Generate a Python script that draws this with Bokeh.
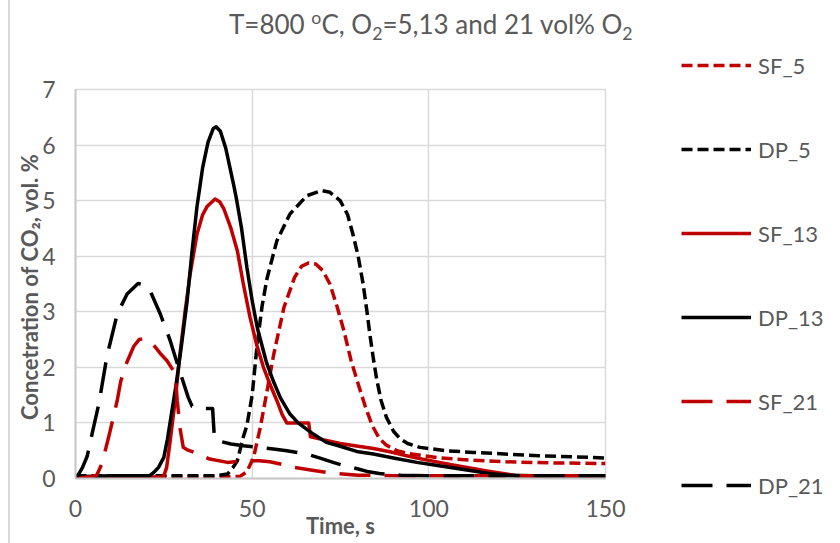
from bokeh.plotting import figure
from bokeh.models import Range1d, FixedTicker, Legend, LegendItem, Div
from bokeh.layouts import row, column
from bokeh.embed import file_html
from bokeh.resources import INLINE

# ---- data ----
title_parts = ["T=800 ", ("sup", "o"), "C, O", ("sub", "2"), "=5,13 and 21 vol% O", ("sub", "2")]
x_label = "Time, s"
y_label = "Concetration  of CO\u2082, vol. %"
x_ticks = [0, 50, 100, 150]
y_ticks = [0, 1, 2, 3, 4, 5, 6, 7]

sf5_t = [0, 10, 20, 30, 40, 46.6, 48.5, 50.4, 52.3, 54, 56, 59, 62, 64, 66, 68, 70, 72, 74, 76, 78,
         80, 82, 84, 86, 88, 91, 94, 103, 112, 122, 135, 150]
sf5_y = [0.03, 0.03, 0.03, 0.03, 0.03, 0.04, 0.12, 0.38, 0.92, 1.5, 2.2, 3.08, 3.62, 3.82, 3.88, 3.86,
         3.74, 3.5, 3.1, 2.65, 2.12, 1.7, 1.3, 0.95, 0.72, 0.6, 0.5, 0.45, 0.37, 0.33, 0.3, 0.28, 0.27]

dp5_t = [0, 10, 20, 30, 40, 43, 44.6, 45.8, 47.5, 48.5, 50, 51.4, 52.8, 54.2, 57, 60.7, 65.5, 69.7,
         72, 74.9, 77, 78.5, 80, 81.4, 82.5, 83.3, 84.2, 85.2, 86.5, 88, 90, 91.8, 94, 97.5, 105,
         112.5, 131, 150]
dp5_y = [0.05, 0.05, 0.05, 0.05, 0.05, 0.08, 0.2, 0.32, 0.75, 0.95, 1.5, 2.4, 3.1, 3.6, 4.28, 4.76,
         5.09, 5.18, 5.15, 5.0, 4.75, 4.4, 4.0, 3.5, 3.0, 2.6, 2.2, 1.8, 1.4, 1.1, 0.85, 0.72, 0.63,
         0.56, 0.5, 0.47, 0.41, 0.37]

sf13_t = [0, 10, 24.9, 25.8, 26.8, 28.2, 29.5, 31, 32.5, 34.4, 36, 37.3, 39.5, 40.8, 42, 44, 45.8,
          47.5, 49.4, 51.3, 53.2, 55, 57, 58.5, 59.8, 66, 66.5, 70, 74.9, 80, 84.3, 89, 93.7, 98,
          103, 108, 112.5, 116, 120, 125, 150]
sf13_y = [0.02, 0.02, 0.03, 0.2, 0.68, 1.4, 2.2, 3.0, 3.7, 4.4, 4.75, 4.9, 5.03, 4.98, 4.85, 4.5,
          4.1, 3.5, 2.9, 2.4, 2.0, 1.7, 1.4, 1.15, 1.0, 1.0, 0.75, 0.7, 0.63, 0.58, 0.54, 0.48,
          0.41, 0.35, 0.29, 0.23, 0.18, 0.14, 0.1, 0.05, 0.05]

dp13_t = [0, 10, 21, 22, 23.5, 25, 26, 27, 28.5, 30, 31.6, 33, 34.4, 36, 37.5, 39, 39.8, 41, 42.5,
          44.7, 45.5, 47, 48.5, 50, 51.5, 54, 56, 58, 60.7, 63, 67.3, 71, 74.9, 80, 84.3, 90, 96.6,
          102, 108, 113, 117, 122, 130, 150]
dp13_y = [0.03, 0.05, 0.05, 0.1, 0.2, 0.38, 0.7, 1.1, 1.7, 2.4, 3.2, 4.1, 4.9, 5.6, 6.05, 6.3, 6.33,
          6.25, 5.95, 5.3, 5.05, 4.5, 3.8, 3.2, 2.7, 2.1, 1.75, 1.45, 1.16, 1.0, 0.8, 0.65, 0.58,
          0.48, 0.44, 0.37, 0.29, 0.24, 0.18, 0.13, 0.09, 0.06, 0.05, 0.05]

sf21_t = [0.5, 4, 6, 7.5, 9.6, 11.8, 12.8, 14.6, 16.5, 18, 19.3, 20.5, 22.1, 24, 25.9, 28.2, 28.8,
          29.6, 30.5, 31.5, 34.5, 38, 43, 48, 52, 55, 58, 62, 67, 72, 80, 90, 150]
sf21_y = [0.0, 0.03, 0.06, 0.27, 0.8, 1.4, 1.75, 2.1, 2.38, 2.5, 2.52, 2.48, 2.4, 2.25, 2.12, 1.89,
          1.4, 0.9, 0.56, 0.52, 0.45, 0.35, 0.29, 0.32, 0.32, 0.3, 0.26, 0.2, 0.15, 0.1, 0.06,
          0.05, 0.05]

dp21_t = [0, 0.9, 2, 3.3, 5.1, 6.6, 8.9, 11.8, 14.6, 17.7, 19.5, 21.1, 24, 26.8, 29.7, 31.9, 33,
          35, 38.8, 39.3, 40.2, 44, 47.5, 52.3, 56, 59.8, 65.5, 69, 72.9, 76, 79.5, 83, 86, 92,
          100, 150]
dp21_y = [0.0, 0.08, 0.2, 0.4, 0.92, 1.34, 2.2, 2.96, 3.32, 3.51, 3.48, 3.38, 2.96, 2.48, 1.89,
          1.46, 1.3, 1.26, 1.26, 0.74, 0.68, 0.62, 0.59, 0.56, 0.53, 0.5, 0.44, 0.37, 0.29, 0.23,
          0.18, 0.12, 0.09, 0.06, 0.05, 0.05]

series = [
    ("SF_5", sf5_t, sf5_y, "#C00000", "11 5"),
    ("DP_5", dp5_t, dp5_y, "#000000", "11 5"),
    ("SF_13", sf13_t, sf13_y, "#C00000", "solid"),
    ("DP_13", dp13_t, dp13_y, "#000000", "solid"),
    ("SF_21", sf21_t, sf21_y, "#C00000", "31 14"),
    ("DP_21", dp21_t, dp21_y, "#000000", "31 14"),
]

FONT = "Lato"
TXT = "#595959"
GRID = "#d9d9d9"
TITLE_H = 50
W, H = 840, 543


def title_markup(parts):
    out = []
    for part in parts:
        if isinstance(part, tuple):
            tag, s = part
            out.append(f'<{tag} style="line-height:0;font-size:68%;">{s}</{tag}>')
        else:
            out.append(part)
    return "".join(out)


title = Div(
    text=('<div style="font-family:Lato;font-size:26px;line-height:30px;color:#595959;'
          'padding-left:229px;padding-top:9px;white-space:nowrap;">'
          + title_markup(title_parts) + '</div>'),
    width=W, height=TITLE_H, margin=0)

p = figure(width=650, height=H - TITLE_H, x_range=Range1d(0, 150), y_range=Range1d(0, 7),
           output_backend="svg", toolbar_location=None,
           min_border_left=75, min_border_right=45, min_border_top=89 - TITLE_H,
           min_border_bottom=65)
p.border_fill_alpha = 0
p.frame_align = False

for ax in (p.xaxis[0], p.yaxis[0]):
    ax.axis_line_color = "#c8c8c8"
    ax.axis_line_width = 2
    ax.major_tick_line_color = None
    ax.minor_tick_line_color = None
    ax.major_tick_out = 0
    ax.major_tick_in = 0
    ax.minor_tick_out = 0
    ax.minor_tick_in = 0
    ax.major_label_text_font = FONT
    ax.major_label_text_font_size = "23px"
    ax.major_label_text_color = TXT
    ax.axis_label_text_font = FONT
    ax.axis_label_text_font_size = "22px"
    ax.axis_label_text_font_style = "bold"
    ax.axis_label_text_color = TXT

p.xaxis.ticker = FixedTicker(ticks=x_ticks)
p.yaxis.ticker = FixedTicker(ticks=y_ticks)
p.xaxis.axis_label = x_label
p.yaxis.axis_label = y_label
p.xaxis.major_label_standoff = 21
p.xaxis.axis_label_standoff = -8
p.yaxis.major_label_standoff = 20
p.yaxis.axis_label_standoff = -4

p.xgrid.ticker = FixedTicker(ticks=x_ticks)
p.ygrid.ticker = FixedTicker(ticks=y_ticks)
p.grid.grid_line_color = GRID
p.grid.grid_line_width = 1.5
p.outline_line_color = GRID
p.outline_line_width = 1.5

for name, t, y, col, dash in series:
    p.line(t, y, line_color=col, line_width=3.5, line_dash=dash,
           line_join="round", line_cap="butt")

# legend panel to the right of the plot (its view range lies outside the data,
# so only the legend keys of these series show)
pl = figure(width=W - 650, height=H - TITLE_H, output_backend="svg", toolbar_location=None,
            x_axis_type=None, y_axis_type=None, min_border=0,
            min_border_left=0, min_border_right=0, min_border_top=0, min_border_bottom=0,
            x_range=Range1d(-20, -10), y_range=Range1d(0, 1))
pl.frame_align = False
pl.grid.visible = False
pl.outline_line_color = None
pl.border_fill_alpha = 0
pl.background_fill_alpha = 0

items = []
for name, t, y, col, dash in series:
    r = pl.line(t, y, line_color=col, line_width=3.5, line_dash=dash,
                line_join="round", line_cap="butt")
    items.append(LegendItem(label=name, renderers=[r]))

legend = Legend(items=items, location=(31, 44))
legend.padding = 0
legend.margin = 0
legend.spacing = 56
legend.glyph_width = 70
legend.glyph_height = 28
legend.label_height = 28
legend.label_standoff = 7
legend.label_text_font = FONT
legend.label_text_font_size = "22px"
legend.label_text_color = TXT
legend.border_line_color = None
legend.background_fill_alpha = 0
pl.add_layout(legend)

layout = column(title, row(p, pl), styles={
    "background": "linear-gradient(to right, #ffffff 8px, #d9d9d9 8px, #d9d9d9 10px, #ffffff 10px)"})

open("out.html", "w").write(file_html(layout, INLINE))
